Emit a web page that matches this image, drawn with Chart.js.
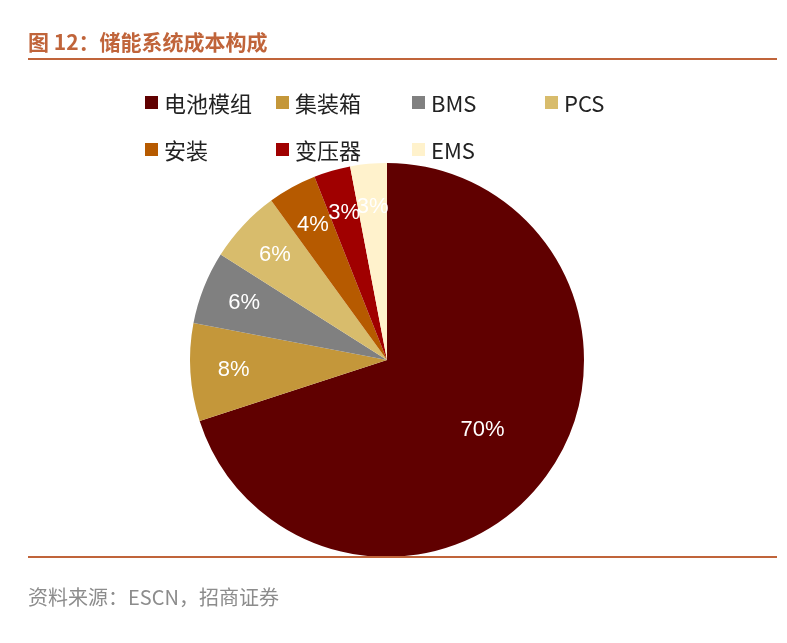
<!DOCTYPE html>
<html><head><meta charset="utf-8">
<script src="https://cdn.jsdelivr.net/npm/chart.js@4"></script>
<style>
body{margin:0;background:#fff;font-family:"Noto Sans CJK SC","Liberation Sans",sans-serif;}
#wrap{position:relative;width:787px;height:643px;}
canvas{position:absolute;left:0;top:0;}
.title{position:absolute;left:28px;top:26px;font-size:21px;font-weight:bold;color:#C0643A;}
.hr{position:absolute;left:28px;width:749px;height:2px;background:#C0643A;}
.src{position:absolute;left:28px;top:582px;font-size:20px;color:#8C8C8C;}
.lg{position:absolute;font-size:22px;color:#222;display:flex;align-items:center;}
.lg i{display:inline-block;width:13px;height:13px;margin-right:6px;}
</style></head><body>
<div id="wrap">
<canvas id="c" width="787" height="643"></canvas>
<div class="title">图 12：储能系统成本构成</div>
<div class="hr" style="top:58px"></div>
<div class="hr" style="top:556px"></div>
<div class="src">资料来源：ESCN，招商证券</div>
<div id="legend"></div>
</div>
<script>
const categories = ["电池模组", "集装箱", "BMS", "PCS", "安装", "变压器", "EMS"];
const values = [70, 8, 6, 6, 4, 3, 3];
const colors = ["#600000", "#C4973A", "#808080", "#D8BC6C", "#B65A00", "#A00000", "#FFF2CC"];

// legend
const legendPos = [[145,101],[276,101],[412,101],[545,101],[145,148],[276,148],[412,148]];
const lg = document.getElementById("legend");
categories.forEach((c, i) => {
    const d = document.createElement("div");
    d.className = "lg";
    d.style.left = legendPos[i][0] + "px";
    d.style.top = (legendPos[i][1] - 15) + "px";
    d.innerHTML = '<i style="background:' + colors[i] + '"></i>' + c;
    lg.appendChild(d);
});

const labelPlugin = {
    id: "labels",
    afterDatasetsDraw(chart) {
        const ctx = chart.ctx;
        const meta = chart.getDatasetMeta(0);
        ctx.save();
        ctx.fillStyle = "#fff";
        ctx.font = "22px 'Liberation Sans', Arial, sans-serif";
        ctx.textAlign = "center";
        ctx.textBaseline = "middle";
        meta.data.forEach((arc, i) => {
            const p = arc.getCenterPoint ? arc.tooltipPosition() : null;
            const mid = (arc.startAngle + arc.endAngle) / 2;
            const r = arc.outerRadius * (i === 0 ? 0.6 : 0.78);
            ctx.fillText(values[i] + "%", arc.x + Math.cos(mid) * r, arc.y + Math.sin(mid) * r);
        });
        ctx.restore();
    }
};

new Chart(document.getElementById("c"), {
    type: "pie",
    data: {
        labels: categories,
        datasets: [{ data: values, backgroundColor: colors, borderWidth: 0 }]
    },
    options: {
        responsive: false,
        animation: false,
        layout: { padding: { left: 190, right: 203, top: 163, bottom: 86 } },
        plugins: { legend: { display: false }, tooltip: { enabled: false } }
    },
    plugins: [labelPlugin]
});
</script>
</body></html>
